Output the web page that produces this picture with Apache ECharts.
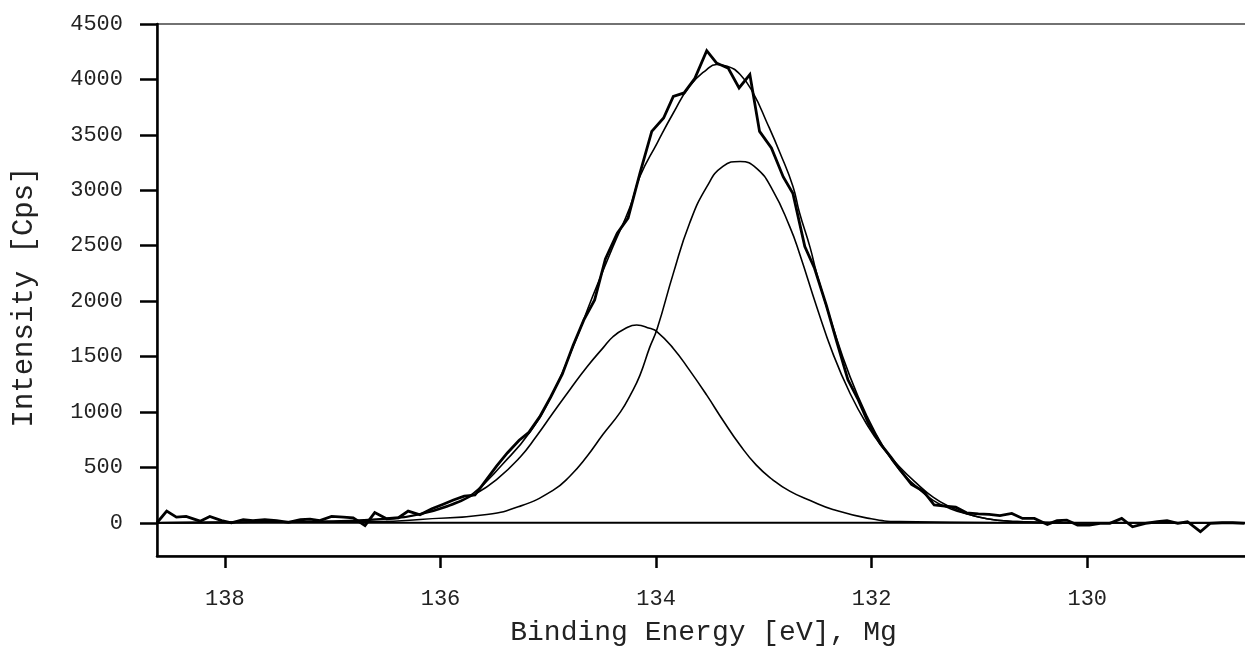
<!DOCTYPE html>
<html>
<head>
<meta charset="utf-8">
<script src="https://cdn.jsdelivr.net/npm/echarts@6/dist/echarts.min.js"></script>
<style>
html,body{margin:0;padding:0;background:#fff;}
#chart{width:1245px;height:647px;}
</style>
</head>
<body>
<div id="chart"></div>
<script>
// Binding energy axis ticks and intensity ticks
const xTicks = [138, 136, 134, 132, 130];
const yTicks = [0, 500, 1000, 1500, 2000, 2500, 3000, 3500, 4000, 4500];

// Measured spectrum (binding energy eV, intensity cps)
const rawBE = [138.63,138.54,138.45,138.36,138.23,138.14,138.03,137.94,137.83,137.74,137.63,137.52,137.41,137.30,137.21,137.12,137.01,136.90,136.81,136.70,136.61,136.50,136.39,136.30,136.19,136.08,135.98,135.88,135.78,135.68,135.58,135.48,135.38,135.27,135.18,135.08,134.98,134.87,134.77,134.67,134.57,134.47,134.36,134.26,134.15,134.04,133.93,133.84,133.74,133.64,133.53,133.44,133.33,133.23,133.13,133.04,132.93,132.82,132.73,132.62,132.53,132.42,132.32,132.22,132.13,132.03,131.92,131.82,131.73,131.63,131.52,131.42,131.32,131.22,131.12,131.01,130.91,130.81,130.70,130.60,130.49,130.37,130.28,130.19,130.09,129.98,129.88,129.79,129.68,129.58,129.46,129.35,129.26,129.16,129.07,128.95,128.86,128.75,128.65,128.54];
const rawCps = [0,105,51,57,14,57,20,0,27,20,27,20,3,27,33,20,57,51,45,-25,92,36,45,105,72,127,165,205,240,250,380,510,630,745,815,955,1130,1340,1600,1830,2010,2380,2612,2748,3152,3531,3652,3847,3878,4010,4260,4149,4100,3923,4044,3531,3381,3120,2970,2491,2296,1960,1620,1290,1121,900,714,590,470,345,285,160,150,140,90,80,75,65,84,39,39,-15,18,24,-21,-21,-6,-6,39,-36,-6,9,18,-6,9,-81,-6,0,0,-6];

// Fitted component 1
const peak1BE = [138.63,137.30,136.56,136.19,135.89,135.70,135.48,135.26,135.11,134.96,134.80,134.64,134.49,134.40,134.29,134.18,134.06,133.99,133.84,133.69,133.53,133.38,133.22,133.07,132.92,132.76,132.57,132.36,132.04,131.74,130.81,128.49];
const peak1Cps = [0,8,30,75,160,247,390,593,780,985,1200,1407,1580,1678,1750,1784,1754,1723,1573,1377,1151,925,699,520,390,285,200,120,42,10,0,0];

// Fitted component 2
const peak2BE = [138.63,136.56,136.19,135.57,135.26,134.96,134.80,134.64,134.49,134.33,134.24,134.15,134.06,133.99,133.84,133.69,133.53,133.38,133.22,133.07,132.92,132.76,132.67,132.51,132.36,132.20,132.04,131.89,131.74,131.58,131.43,131.27,131.12,130.93,130.72,130.25,128.49];
const peak2Cps = [0,10,30,75,150,290,420,600,800,1000,1150,1330,1580,1750,2250,2700,3030,3215,3260,3200,3004,2672,2432,1949,1528,1166,880,669,503,353,231,141,81,36,14,0,0];

// Fit envelope (sum curve)
const envBE = [138.63,137.30,136.56,136.19,135.89,135.70,135.42,135.17,134.96,134.77,134.59,134.40,134.24,134.15,133.99,133.84,133.69,133.53,133.44,133.34,133.22,133.10,132.97,132.85,132.73,132.67,132.57,132.51,132.36,132.20,132.04,131.89,131.74,131.58,131.43,131.27,131.12,130.93,130.72,130.25,128.49];
const envCps = [0,10,35,81,172,262,533,819,1166,1588,2039,2491,2853,3124,3426,3697,3938,4089,4134,4119,4044,3878,3607,3336,3034,2800,2480,2250,1768,1316,955,683,473,322,202,127,81,36,14,0,0];

// Background (zero line)
const bgBE = [138.63, 128.49];
const bgCps = [0, 0];

function pairs(a, b) { return a.map((v, i) => [v, b[i]]); }

const FONT = 'Liberation Mono';
const chart = echarts.init(document.getElementById('chart'), null, {renderer: 'canvas'});
chart.setOption({
  animation: false,
  backgroundColor: '#ffffff',
  grid: {left: 157, top: 24, right: -5, bottom: 91, show: true, borderColor: '#444', borderWidth: 1.5, containLabel: false, outerBoundsMode: 'none'},
  xAxis: {
    type: 'value', min: 128.49, max: 138.63, inverse: true,
    axisLine: {onZero: false, lineStyle: {color: '#000', width: 2.5}},
    axisTick: {show: true, length: 12, customValues: xTicks, lineStyle: {color: '#000', width: 2.5}},
    axisLabel: {customValues: xTicks, margin: 32, fontFamily: FONT, fontSize: 22, color: '#222', formatter: v => String(v)},
    splitLine: {show: false},
    name: 'Binding Energy [eV], Mg', nameLocation: 'middle', nameGap: 63,
    nameTextStyle: {fontFamily: FONT, fontSize: 28, color: '#222'}
  },
  yAxis: {
    type: 'value', min: -300, max: 4500,
    axisLine: {show: true, onZero: false, lineStyle: {color: '#000', width: 2.5}},
    axisTick: {show: true, length: 17, customValues: yTicks, lineStyle: {color: '#000', width: 2.5}},
    axisLabel: {customValues: yTicks, margin: 34, fontFamily: FONT, fontSize: 22, color: '#222', formatter: v => String(v)},
    splitLine: {show: false},
    name: 'Intensity [Cps]', nameLocation: 'middle', nameGap: 118,
    nameTextStyle: {fontFamily: FONT, fontSize: 29, color: '#222', padding: [0, 14, 0, 0]}
  },
  series: [
    {name: 'background', type: 'line', data: pairs(bgBE, bgCps), showSymbol: false, symbol: 'none', lineStyle: {color: '#000', width: 2}, z: 2},
    {name: 'peak1', type: 'line', data: pairs(peak1BE, peak1Cps), showSymbol: false, symbol: 'none', smooth: 0.5, lineStyle: {color: '#000', width: 1.6}, z: 3},
    {name: 'peak2', type: 'line', data: pairs(peak2BE, peak2Cps), showSymbol: false, symbol: 'none', smooth: 0.5, lineStyle: {color: '#000', width: 1.6}, z: 3},
    {name: 'envelope', type: 'line', data: pairs(envBE, envCps), showSymbol: false, symbol: 'none', smooth: 0.5, lineStyle: {color: '#000', width: 1.6}, z: 4},
    {name: 'raw', type: 'line', data: pairs(rawBE, rawCps), showSymbol: false, symbol: 'none', lineStyle: {color: '#000', width: 2.8, join: 'miter'}, z: 5}
  ]
});
</script>
</body>
</html>
